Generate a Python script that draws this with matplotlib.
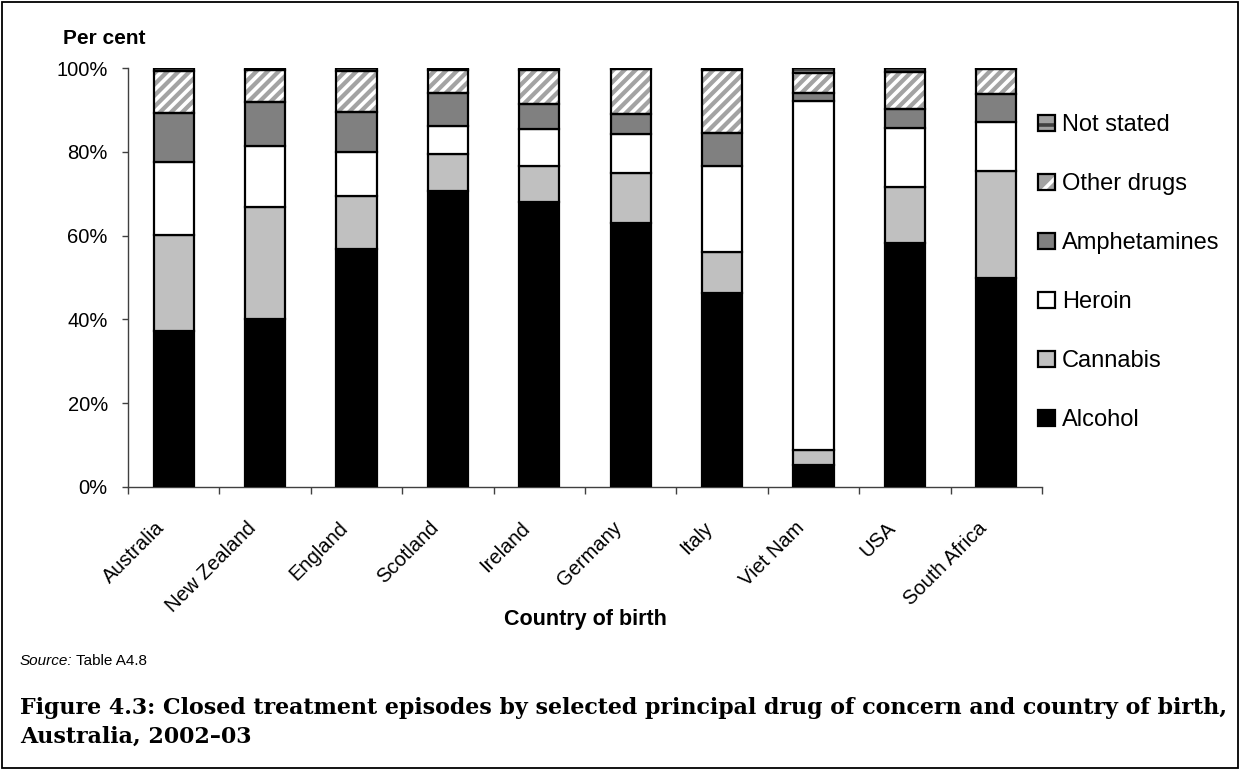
import matplotlib
matplotlib.use("Agg")
import matplotlib.pyplot as plt
from matplotlib.patches import Patch, Rectangle
from matplotlib.legend_handler import HandlerTuple
from matplotlib.transforms import blended_transform_factory, ScaledTranslation
import numpy as np

# Closed treatment episodes (%) by principal drug of concern and country of birth
countries = ["Australia", "New Zealand", "England", "Scotland", "Ireland",
             "Germany", "Italy", "Viet Nam", "USA", "South Africa"]
alcohol = [37.3, 40.0, 56.8, 70.7, 68.0, 63.1, 46.2, 5.2, 58.2, 50.0]
cannabis = [22.8, 26.9, 12.7, 8.7, 8.7, 11.9, 9.8, 3.6, 13.5, 25.5]
heroin = [17.5, 14.6, 10.5, 6.8, 8.8, 9.2, 20.6, 83.4, 13.9, 11.7]
amphetamines = [11.6, 10.3, 9.4, 7.8, 5.9, 4.8, 7.8, 1.8, 4.5, 6.5]
other_drugs = [10.2, 7.7, 9.9, 5.6, 8.2, 10.7, 15.1, 4.8, 9.0, 6.0]
not_stated = [0.6, 0.5, 0.7, 0.4, 0.4, 0.3, 0.5, 1.2, 0.9, 0.3]
y_ticks = [0, 20, 40, 60, 80, 100]
y_tick_labels = ["0%", "20%", "40%", "60%", "80%", "100%"]

plt.rcParams["font.family"] = ["Liberation Sans", "DejaVu Sans"]
plt.rcParams["hatch.linewidth"] = 2.6

W, H = 1241, 771
fig = plt.figure(figsize=(W / 100, H / 100), dpi=100)
ax = fig.add_axes([128 / W, 1 - 487 / H, (1042 - 128) / W, (487 - 68) / H])

x = np.arange(len(countries))
bw = 0.44
edge_lw = 1.6

# (label, values, face colour, hatch, hatch colour)
series = [
    ("Alcohol", alcohol, "#000000", None, None),
    ("Cannabis", cannabis, "#c0c0c0", None, None),
    ("Heroin", heroin, "#ffffff", None, None),
    ("Amphetamines", amphetamines, "#808080", None, None),
    ("Other drugs", other_drugs, "#a3a3a3", "///", "#ffffff"),
    ("Not stated", not_stated, "#a0a0a0", "---", "#404040"),
]

bottom = np.zeros(len(countries))
handles = {}
for label, vals, face, hatch, hcol in series:
    vals = np.asarray(vals, dtype=float)
    if hatch:
        ax.bar(x, vals, bw, bottom=bottom, color=face, edgecolor=hcol,
               hatch=hatch, linewidth=0, zorder=2)
        ax.bar(x, vals, bw, bottom=bottom, fill=False, edgecolor="black",
               linewidth=edge_lw, zorder=3)
        handles[label] = (Patch(facecolor=face, edgecolor=hcol, hatch=hatch[0], linewidth=0),
                          Patch(fill=False, edgecolor="black", linewidth=1.6))
    else:
        ax.bar(x, vals, bw, bottom=bottom, color=face, edgecolor="black",
               linewidth=edge_lw, zorder=3)
        handles[label] = Patch(facecolor=face, edgecolor="black", linewidth=1.6)
    bottom += vals

ax.set_xlim(-0.5, len(countries) - 0.5)
ax.set_ylim(0, 100)
for side in ("top", "right"):
    ax.spines[side].set_visible(False)
for side in ("left", "bottom"):
    ax.spines[side].set_color("#404040")
    ax.spines[side].set_linewidth(1.0)

ax.set_yticks(y_ticks, y_tick_labels)
ax.tick_params(axis="y", length=4, width=1, color="#404040", pad=10.5, labelsize=14.5)
ax.set_xticks(np.arange(len(countries) + 1) - 0.5, [""] * (len(countries) + 1))
ax.tick_params(axis="x", length=5, width=1, color="#404040", direction="out")

label_tr = blended_transform_factory(ax.transData, ax.transAxes) + \
    ScaledTranslation(-12 / 100, -38 / 100, fig.dpi_scale_trans)
for i, c in enumerate(countries):
    ax.text(i, 0, c, transform=label_tr, rotation=45, ha="right", va="center",
            rotation_mode="anchor", fontsize=14.5)

fig.text(585 / W, 1 - 620 / H, "Country of birth", ha="center", va="center",
         fontsize=15.5, fontweight="bold")
fig.text(63 / W, 1 - 38 / H, "Per cent", ha="left", va="center",
         fontsize=15, fontweight="bold")

order = ["Not stated", "Other drugs", "Amphetamines", "Heroin", "Cannabis", "Alcohol"]
fig.legend([handles[k] for k in order], order, loc="upper left",
           bbox_to_anchor=(1038 / W, 1 - 114 / H), frameon=False, fontsize=17,
           handlelength=0.72, handleheight=0.64, handletextpad=0.3,
           labelspacing=1.57, borderpad=0, borderaxespad=0,
           handler_map={tuple: HandlerTuple(ndivide=1, pad=0)})

src = fig.text(20 / W, 1 - 661 / H, "Source:", ha="left", va="center",
               fontsize=11, style="italic")
fig.canvas.draw()
r = fig.canvas.get_renderer()
bb = src.get_window_extent(r)
fig.text((bb.x1 + 3) / W, 1 - 661 / H, "Table A4.8", ha="left", va="center", fontsize=11)

title1 = "Figure 4.3: Closed treatment episodes by selected principal drug of concern and country of birth,"
title2 = "Australia, 2002\u201303"
t1 = fig.text(20 / W, 1 - 708 / H, title1, ha="left", va="center",
              fontsize=16, fontweight="bold", family="DejaVu Serif")
fig.canvas.draw()
w1 = t1.get_window_extent(fig.canvas.get_renderer()).width
fs = 16 * (1205 / w1)
t1.set_fontsize(fs)
fig.text(20 / W, 1 - 737 / H, title2, ha="left", va="center",
         fontsize=fs, fontweight="bold", family="DejaVu Serif")

fig.patches.append(Rectangle((1.5 / W, 3.5 / H), 1236.5 / W, 766 / H,
                             transform=fig.transFigure, fill=False,
                             edgecolor="black", linewidth=1.3))

fig.savefig("out.png", dpi=100)
